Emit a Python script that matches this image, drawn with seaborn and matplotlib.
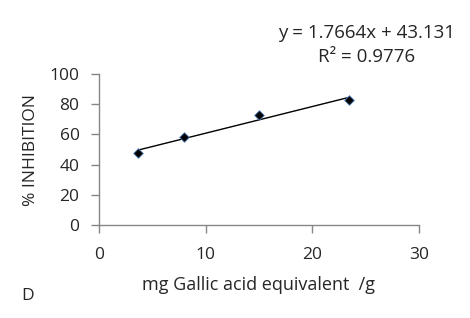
import matplotlib
matplotlib.use("Agg")
import matplotlib.pyplot as plt
import seaborn as sns
import numpy as np
import pandas as pd

# Data
gae = [3.65, 8.0, 15.0, 23.4]          # mg Gallic acid equivalent /g
inhibition = [47.5, 58.5, 72.8, 82.8]  # % inhibition
slope, intercept = 1.7664, 43.131
r2 = 0.9776
x_ticks = [0, 10, 20, 30]
y_ticks = [0, 20, 40, 60, 80, 100]

sns.set_theme(style="white")
plt.rcParams['font.family'] = ['Open Sans', 'DejaVu Sans']

W, H = 470, 318
fig = plt.figure(figsize=(W / 100, H / 100), dpi=100)
ax = fig.add_axes([99 / W, 1 - 225 / H, (419 - 99) / W, (225 - 74) / H])

df = pd.DataFrame({"x": gae, "y": inhibition})
fit_x = np.array([min(gae), max(gae)])
fit = pd.DataFrame({"x": fit_x, "y": slope * fit_x + intercept})

sns.lineplot(data=fit, x="x", y="y", ax=ax, color="black", linewidth=1.0)
sns.scatterplot(data=df, x="x", y="y", ax=ax, marker="D", s=24,
                color="black", edgecolor="#4f81bd", linewidth=0.6, zorder=3)

ax.set_xlim(0, 30)
ax.set_ylim(0, 100)
ax.set_xticks(x_ticks)
ax.set_yticks(y_ticks)
ax.tick_params(axis="both", direction="out", length=6, width=1, color="#868686",
               labelsize=12.5, bottom=True, left=True)
ax.tick_params(axis="y", pad=8)
ax.tick_params(axis="x", pad=10)
for s in ["top", "right"]:
    ax.spines[s].set_visible(False)
for s in ["left", "bottom"]:
    ax.spines[s].set_color("#868686")
    ax.spines[s].set_linewidth(1)

ax.set_xlabel("mg Gallic acid equivalent  /g", fontsize=13)
ax.set_ylabel("% INHIBITION", fontsize=12.5)
ax.xaxis.label.set_va("center")
ax.yaxis.label.set_va("center")
ax.xaxis.set_label_coords((259 - 99) / 320, (225 - 285) / 151)
ax.yaxis.set_label_coords((31 - 99) / 320, (225 - 150) / 151)

fig.text(367 / W, 1 - 33 / H, f"y = {slope}x + {intercept}", ha="center", va="center", fontsize=13.5)
fig.text(367 / W, 1 - 57 / H, f"R² = {r2}", ha="center", va="center", fontsize=13.5)
fig.text(21 / W, 1 - 296 / H, "D", ha="left", va="center", fontsize=12.5)

fig.savefig("out.png", dpi=100)
